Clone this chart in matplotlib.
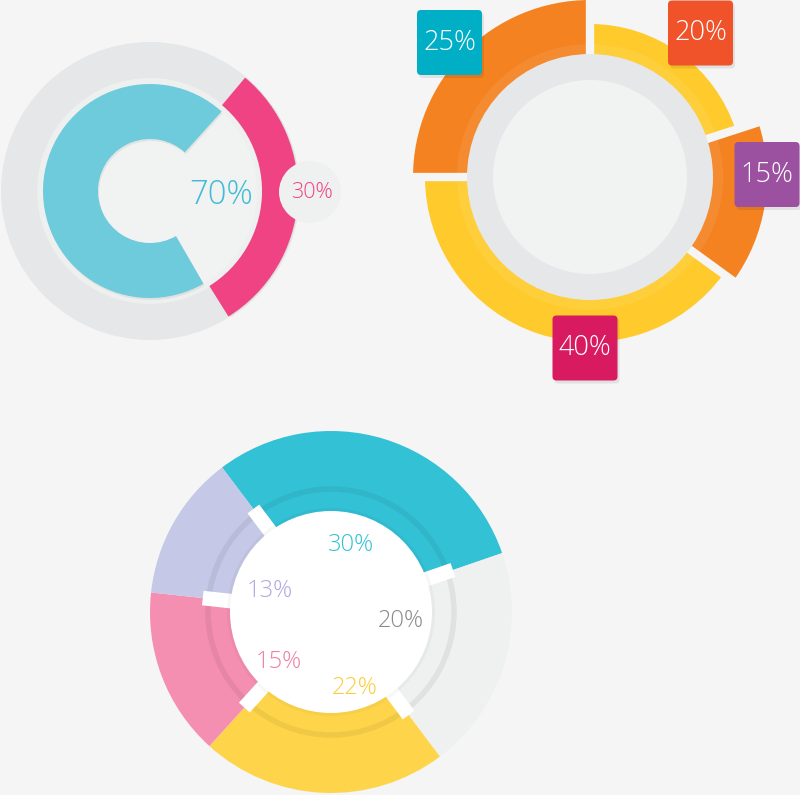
import numpy as np
import matplotlib
matplotlib.use("Agg")
import matplotlib.pyplot as plt
from matplotlib.patches import Wedge, Circle, FancyBboxPatch

# ---------------- data ----------------
c1_values = [70, 30]
c1_labels = ["70%", "30%"]

c2_values = [25, 20, 15, 40]
c2_labels = ["25%", "20%", "15%", "40%"]

c3_values = [30, 20, 22, 15, 13]
c3_labels = ["30%", "20%", "22%", "15%", "13%"]

# ---------------- styles ----------------
BG = "#f5f5f5"
FONT = ["Open Sans", "DejaVu Sans"]
FW = 300

fig = plt.figure(figsize=(8, 7.95), dpi=100)
fig.patch.set_facecolor(BG)
ax = fig.add_axes([0, 0, 1, 1])
ax.set_xlim(0, 800)
ax.set_ylim(0, 795)
ax.set_aspect("equal")
ax.axis("off")
ax.set_facecolor(BG)

z = [0]


def nz():
    z[0] += 1
    return z[0]


def pol(c, r, a):
    t = np.deg2rad(a)
    return c[0] + r * np.cos(t), c[1] + r * np.sin(t)


# ============ chart 1 ============
C1 = (150, 604)
ax.add_patch(Circle(C1, 149, color="#e6e7e8", lw=0, zorder=nz()))
ax.add_patch(Circle(C1, 113, color="#eef0f0", lw=0, zorder=nz()))
ax.add_patch(Circle(C1, 107, color="#f1f2f2", lw=0, zorder=nz()))
start1 = 48
blue_span = 360 * c1_values[0] / 100
pink_span = 360 * c1_values[1] / 100
ax.add_patch(Wedge((C1[0] + 1, C1[1] - 2), 107, start1, start1 + blue_span,
                   width=55, color="#000000", alpha=0.06, lw=0, zorder=nz()))
ax.add_patch(Wedge(C1, 107, start1, start1 + blue_span, width=55,
                   color="#6ecbdc", lw=0, zorder=nz()))
ax.add_patch(Wedge((C1[0] + 2, C1[1] - 1), 148, start1 + 2 - pink_span, start1 + 2,
                   width=36, color="#000000", alpha=0.05, lw=0, zorder=nz()))
ax.add_patch(Wedge(C1, 148, start1 + 2 - pink_span, start1 + 2, width=36,
                   color="#ef4383", lw=0, zorder=nz()))
ax.add_patch(Circle((310, 603), 31, color="#eff0f0", lw=0, zorder=nz()))
ax.text(221, 600, c1_labels[0], ha="center", va="center", fontsize=23.5,
        color="#41bcd4", family=FONT, fontweight=FW, zorder=nz())
ax.text(312, 602, c1_labels[1], ha="center", va="center", fontsize=15.5,
        color="#ef4383", family=FONT, fontweight=FW, zorder=nz())

# ============ chart 2 ============
C2 = (590, 618)
c2_colors = ["#f58220", "#ffca2b", "#f58220", "#ffca2b"]
c2_outer = [177, 153, 177, 165]
a = 180.0
bounds = [a]
for v, col, ro in zip(c2_values, c2_colors, c2_outer):
    span = 360 * v / 100
    ax.add_patch(Wedge(C2, ro, a - span, a, width=ro - 118, color=col, lw=0,
                       zorder=nz()))
    a -= span
    bounds.append(a)
ax.add_patch(Wedge(C2, 133, 0, 360, width=12, color="white", alpha=0.08, lw=0,
                   zorder=nz()))
for b in bounds[:-1]:
    x0, y0 = pol(C2, 115, b)
    x1, y1 = pol(C2, 185, b)
    ax.plot([x0, x1], [y0, y1], color=BG, lw=6.0, solid_capstyle="butt",
            zorder=nz())
ax.add_patch(Circle(C2, 123, color="#e6e7e8", lw=0, zorder=nz()))
ax.add_patch(Circle(C2, 97, color="#f1f2f2", lw=0, zorder=nz()))

box_pos = [(449.5, 752.5), (700.5, 762), (767, 620.5), (585, 447)]
box_cols = ["#00afc6", "#f0522a", "#9b51a0", "#d81b60"]
bw = 65
for (bx, by), col, lab in zip(box_pos, box_cols, c2_labels):
    ax.add_patch(FancyBboxPatch((bx - bw / 2 + 2, by - bw / 2 - 3), bw, bw,
                                boxstyle="round,pad=0,rounding_size=4",
                                color="#000000", alpha=0.08, lw=0, zorder=nz()))
    ax.add_patch(FancyBboxPatch((bx - bw / 2, by - bw / 2), bw, bw,
                                boxstyle="round,pad=0,rounding_size=4",
                                color=col, lw=0, zorder=nz()))
    ax.text(bx, by, lab, ha="center", va="center", fontsize=19.5,
            color="white", family=FONT, fontweight=FW, zorder=nz())

# ============ chart 3 ============
C3 = (331, 183)
c3_colors = ["#33c1d6", "#eff0f0", "#fed54a", "#f48fb1", "#c5c8e6"]
c3_text = ["#33c1d6", "#8a8a8a", "#f9cf3a", "#f07fa6", "#b0a8de"]
c3_lab_pos = [(351, 250), (401, 174), (355, 107), (279, 133), (270, 204)]
teal_end = 19
a = teal_end + 360 * c3_values[0] / 100
b3 = []
for v, col in zip(c3_values, c3_colors):
    span = 360 * v / 100
    ax.add_patch(Wedge(C3, 181, a - span, a, width=90, color=col, lw=0,
                       zorder=nz()))
    b3.append(a)
    a -= span
ax.add_patch(Circle(C3, 123, fill=False, ec="#000000", alpha=0.06, lw=4,
                    zorder=nz()))
for b in b3:
    x0, y0 = pol(C3, 95, b)
    x1, y1 = pol(C3, 129, b)
    ax.plot([x0, x1], [y0, y1], color="white", lw=10.5, solid_capstyle="butt",
            zorder=nz())
ax.add_patch(Circle(C3, 104, color="#000000", alpha=0.03, lw=0, zorder=nz()))
ax.add_patch(Circle(C3, 101, color="white", lw=0, zorder=nz()))
for (tx, ty), col, lab in zip(c3_lab_pos, c3_text, c3_labels):
    ax.text(tx, ty, lab, ha="center", va="center", fontsize=17,
            color=col, family=FONT, fontweight=FW, zorder=nz())

fig.savefig("out.png", dpi=100, facecolor=BG)
